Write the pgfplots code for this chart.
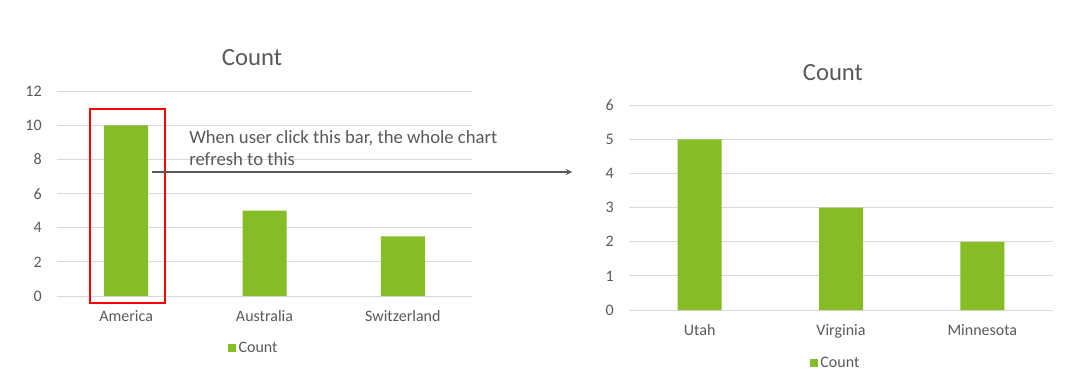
\documentclass[border=0pt]{standalone}
\usepackage{fontspec}
\setmainfont{Carlito}
\usepackage{pgfplots}
\pgfplotsset{compat=1.18}
\definecolor{bargreen}{HTML}{86BC25}
\definecolor{txt}{HTML}{595959}
\definecolor{gridc}{HTML}{D9D9D9}
\pgfplotsset{
  excelbar/.style={
    scale only axis,
    ybar, bar width=33pt,
    xmin=-0.5, xmax=2.5, ymin=0,
    xtick=data,
    axis line style={draw=none},
    major tick length=0pt,
    ymajorgrids, grid style={gridc, line width=0.75pt},
    tick label style={font=\fontsize{12}{14}\selectfont, text=txt},
    /pgf/number format/assume math mode=true,
    yticklabel style={xshift=-8pt},
    xticklabel style={yshift=-7.5pt},
    every axis title shift=0pt,
    title style={font=\fontsize{18.5}{22}\selectfont, text=txt, anchor=center, yshift=0pt},
    legend style={draw=none, font=\fontsize{12}{14}\selectfont, text=txt, anchor=center, legend cell align=left},
    legend image code/.code={\fill[bargreen] (-2pt,-3pt) rectangle (4pt,3pt);},
    clip=false,
  }
}
\begin{document}
\begin{tikzpicture}[x=0.75pt,y=0.75pt]
\path[use as bounding box] (0,0) rectangle (1073,383);
\begin{axis}[excelbar, at={(42.75pt,65.25pt)}, anchor=south west,
  width=311.25pt, height=153.5pt, ymax=12, ytick={0,2,...,12},
  xticklabels={America,Australia,Switzerland},
  title={Count}, title style={at={(0.47,1.163)}},
  legend style={at={(0.475,-0.254)}}]
\addplot[fill=bargreen, draw=none] coordinates {(0,10) (1,5) (2,3.5)};
\addlegendentry{Count}
\end{axis}
\begin{axis}[excelbar, at={(471.75pt,54.75pt)}, anchor=south west,
  width=318pt, height=153.5pt, ymax=6, ytick={0,1,...,6},
  xticklabels={Utah,Virginia,Minnesota},
  title={Count}, title style={at={(0.481,1.158)}},
  legend style={at={(0.488,-0.259)}}]
\addplot[fill=bargreen, draw=none] coordinates {(0,5) (1,3) (2,2)};
\addlegendentry{Count}
\end{axis}
\draw[red, line width=2.2pt] (90,80) rectangle (165,274);
\draw[txt, line width=1.1pt, -stealth] (152,211) -- (572,211);
\node[anchor=base west, inner sep=0pt, text=txt, font=\fontsize{14}{17}\selectfont] at (189,239.5) {When user click this bar, the whole chart};
\node[anchor=base west, inner sep=0pt, text=txt, font=\fontsize{14}{17}\selectfont] at (189,217.5) {refresh to this};
\end{tikzpicture}
\end{document}
